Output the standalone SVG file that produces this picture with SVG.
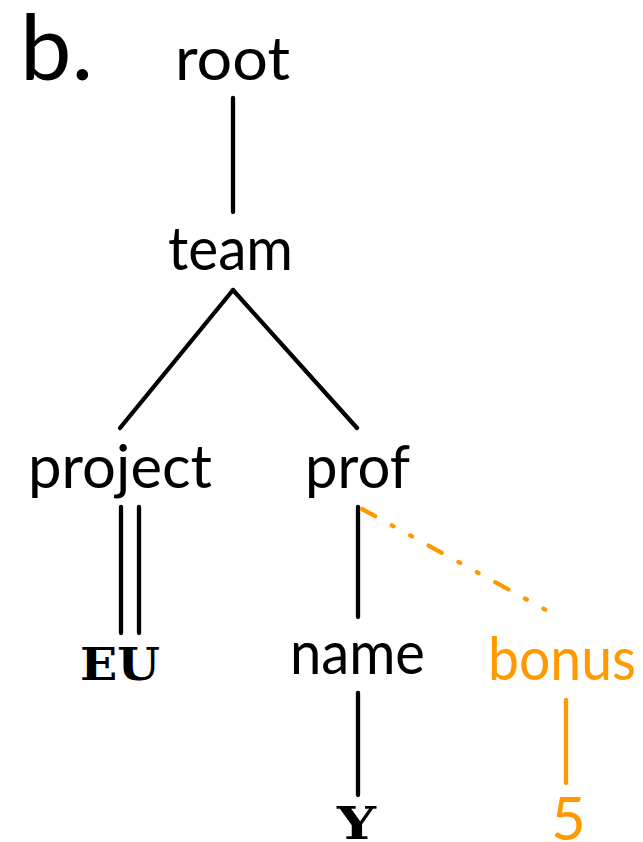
<svg xmlns="http://www.w3.org/2000/svg" width="643" height="842" viewBox="0 0 643 842">
<style>
.t{font-family:Lato,"Open Sans","Liberation Sans",sans-serif;font-size:60px;fill:#000}
.o{fill:#FF9900}
.v{font-family:"DejaVu Serif","Liberation Serif",serif;font-weight:bold;font-size:45px;fill:#000}
.e{stroke:#000;stroke-width:4.3;stroke-linecap:round;fill:none}
.oe{stroke:#FF9900}
.d{stroke-dasharray:15 19 2 19 2 19}
</style>
<rect width="643" height="842" fill="#fff"/>
<text id="label" class="t" x="20" y="80" style="font-size:92px">b.</text>
<g id="connectors">
<line class="e" x1="233" y1="98" x2="233" y2="212"/>
<line class="e" x1="233" y1="290" x2="120" y2="428"/>
<line class="e" x1="233" y1="290" x2="357" y2="428"/>
<line class="e" x1="121" y1="507" x2="121" y2="633"/>
<line class="e" x1="139" y1="507" x2="139" y2="633"/>
<line class="e" x1="358" y1="507" x2="358" y2="617"/>
<line class="e oe d" x1="362" y1="509" x2="555" y2="615"/>
<line class="e" x1="358" y1="693" x2="358" y2="795"/>
<line class="e oe" x1="566" y1="700" x2="566" y2="783"/>
</g>
<g id="n-root"><text class="t" x="175" y="80" textLength="115" lengthAdjust="spacingAndGlyphs">root</text></g>
<g id="n-team"><text class="t" x="168" y="270" textLength="125" lengthAdjust="spacingAndGlyphs">team</text></g>
<g id="n-project"><text class="t" x="28" y="488" textLength="184" lengthAdjust="spacingAndGlyphs">project</text></g>
<g id="n-prof"><text class="t" x="305" y="488" textLength="105" lengthAdjust="spacingAndGlyphs">prof</text></g>
<g id="n-EU"><text class="v" x="80" y="680" textLength="80" lengthAdjust="spacingAndGlyphs">EU</text></g>
<g id="n-name"><text class="t" x="290" y="674" textLength="135" lengthAdjust="spacingAndGlyphs">name</text></g>
<g id="n-bonus"><text class="t o" x="488" y="680" textLength="148" lengthAdjust="spacingAndGlyphs">bonus</text></g>
<g id="n-Y"><text class="v" x="337" y="839" textLength="39" lengthAdjust="spacingAndGlyphs">Y</text></g>
<g id="n-5"><text class="t o" x="551" y="840">5</text></g>
</svg>
